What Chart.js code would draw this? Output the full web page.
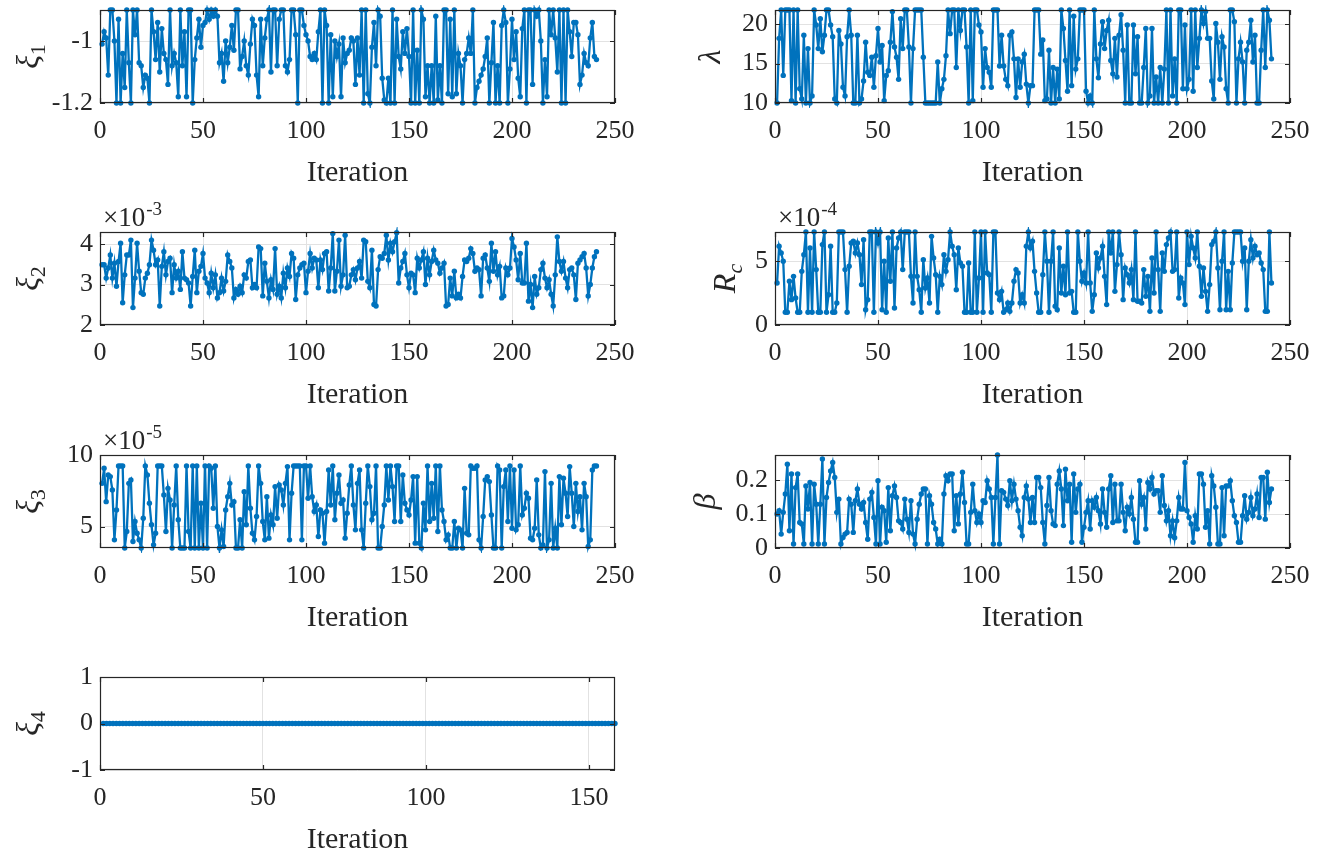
<!DOCTYPE html>
<html>
<head>
<meta charset="utf-8">
<script src="https://cdn.jsdelivr.net/npm/chart.js@4.4.1/dist/chart.umd.min.js"></script>
<style>
  html, body { margin: 0; padding: 0; background: #fff; overflow: hidden; width: 1329px; height: 856px; }
  body { position: relative; }
  canvas { position: absolute; }
</style>
</head>
<body>
<script>
// ---- data ----
const iterTicks = [0, 50, 100, 150, 200, 250];
const iterTicksXi4 = [0, 50, 100, 150];

const xi1 = [
  -1.01, -0.97, -0.99, -1.11, -0.9, -0.9, -1.0, -1.2, -0.93, -1.2, -1.04, -1.15, -0.9, -1.07, -1.2,
  -0.9, -0.98, -0.9, -1.07, -1.08, -1.15, -1.11, -1.12, -1.2, -0.9, -0.97, -1.06, -0.94, -1.1, -0.96,
  -1.04, -1.06, -1.14, -0.9, -1.08, -1.04, -1.07, -1.18, -0.9, -1.08, -0.97, -1.18, -0.9, -0.9, -1.2,
  -1.06, -0.99, -0.93, -1.02, -0.95, -0.94, -0.9, -0.93, -0.9, -0.92, -0.9, -0.92,
  -1.07, -1.04, -1.13, -1.0, -1.07, -1.02, -0.95, -1.03, -0.9, -0.9, -1.09, -1.05, -1.0, -1.08, -1.11,
  -1.01, -0.93, -0.95, -1.11, -1.18, -0.93, -1.08, -0.99, -0.93, -0.9, -1.1, -0.9, -0.9, -1.08, -0.93,
  -0.9, -0.9, -1.08, -1.1, -1.06, -0.9, -0.9, -0.98, -1.2, -0.9, -0.9, -0.95, -0.98, -1.0, -1.05,
  -1.06, -1.04, -1.06, -0.97, -0.9, -1.2, -0.9, -0.95, -1.2, -0.98, -1.18, -1.0, -1.05, -1.01, -1.18,
  -0.99, -1.07, -1.04, -1.03, -0.99, -1.0, -1.14,
  -0.99, -1.11, -0.9, -1.2, -0.9, -1.17, -1.2, -1.02, -0.94, -1.08, -0.9, -0.92, -1.12, -1.19, -1.2,
  -1.12, -1.2, -0.9, -1.2, -0.93, -1.05, -1.09, -0.97, -1.04, -0.96, -1.05, -1.2, -0.9, -1.2, -1.03,
  -1.2, -0.9, -0.93, -1.18, -1.08, -1.2, -1.08, -1.2, -0.92, -1.19, -1.08, -1.2, -0.9, -0.9, -1.17,
  -0.93, -1.18, -0.9, -1.17, -1.04, -1.08, -1.2, -1.06, -1.04, -0.99, -1.04, -0.9, -1.2, -1.15, -1.13,
  -1.11, -1.09, -1.05, -0.99, -1.2, -1.07, -0.94, -1.2, -1.08, -1.2, -0.95, -0.9, -0.94, -1.2, -1.09,
  -0.93, -1.06, -0.97, -1.12, -1.18, -0.96, -0.9, -1.2, -0.9, -0.9, -1.14, -0.9, -0.92, -0.9, -1.0,
  -1.2, -1.06, -1.18, -0.9, -0.98, -0.9, -0.99, -1.1, -0.9, -1.2, -0.9, -1.2, -0.9, -0.97, -1.05,
  -0.94, -0.94, -0.98, -1.14, -1.11, -1.04, -1.07, -1.08, -0.99, -0.94, -1.05, -1.06
];

const lambda = [
  10, 18.2, 21.8, 13.5, 21.8, 21.8, 21.8, 10.3, 21.8,
  10, 21.8, 11.8, 10.5, 18.6, 10, 16.9, 10, 10.9,
  21.8, 19.9, 16.9, 20.7, 16.5, 18.6, 21.8, 21.8, 19.9,
  18.4, 10.5, 10, 19.2, 17.5, 12.0, 10.9, 18.4, 21.8,
  18.6, 10, 10, 18.6, 10, 10.5, 12.8, 17.7, 13.9,
  13.5, 15.8, 12.0, 16.0, 19.45, 15.2, 17.3, 10.3, 13.5,
  14.1, 17.7, 21.6, 17.1, 15.8, 13.0, 20.7, 16.9, 21.8,
  21.8, 17.1, 10, 16.9, 21.8, 21.8, 21.8, 21.8, 15.8,
  10, 10, 10, 10, 10, 10, 15.2, 10, 11.8, 13.0,
  16.0, 21.8, 18.8, 21.8, 21.8, 14.5, 21.8, 19.2, 21.8,
  21.8, 17.1, 10, 21.8, 10.3, 21.8, 21.8, 19.9, 19.0,
  12.0, 16.9, 14.5, 13.9, 12.0, 21.8, 21.8, 21.8, 14.7,
  18.6, 14.7, 13.0, 12.2, 18.6, 19.0, 15.6, 10.7,
  15.6, 12.0, 15.2, 16.2, 12.4, 10, 12.2,
  12.2, 21.8, 21.8, 21.8, 16.2, 18.0, 10.3, 10.5,
  16.7, 10, 14.5, 10, 14.3, 10.5, 21.8, 19.45, 15.4,
  11.5, 21.8, 12.2, 21.0, 14.3, 15.6, 21.8, 21.8, 21.8,
  11.5, 10, 10.9, 10, 21.8, 15.6, 13.2, 17.5, 20.3, 16.9,
  19.2, 20.5, 15.4, 13.7, 18.2, 13.3, 18.6, 21.2, 16.7,
  10, 19.9, 10, 10, 19.9, 13.7, 18.4, 10, 10, 14.5,
  19.45, 10, 10.9, 19.45, 10, 13.3, 10, 14.5, 10, 14.3,
  21.8, 10, 21.8, 10.9, 15.6, 10, 21.8, 21.8, 11.8, 19.9,
  11.8, 13.0, 21.8, 11.5, 21.8, 14.5, 18.2, 21.8, 20.1, 21.6,
  18.2, 18.2, 12.8, 10.5, 20.1, 17.7, 13.0, 18.4, 17.1,
  11.8, 10, 21.8, 21.8, 20.3, 10, 15.6, 17.7, 15.2, 10,
  16.7, 17.7, 20.5, 15.2, 18.6, 10, 10, 16.7, 21.8,
  14.5, 21.8, 20.5, 15.6
];

// xi2 in units of 1e-3
const xi2 = [
  3.49, 3.49, 3.16, 3.41, 3.73, 3.16, 3.53, 2.96, 3.57,
  4.02, 2.55, 3.24, 3.73, 3.73, 4.10, 2.43, 3.16, 4.02, 3.33,
  2.80, 2.76, 3.16, 3.28, 3.49, 4.10, 3.85, 3.49, 3.61,
  2.47, 3.45, 3.81, 3.24, 3.57, 3.65, 2.80, 3.49, 3.16,
  3.33, 2.88, 3.81, 3.16, 3.12, 3.04, 2.47, 3.20, 3.85,
  2.80, 3.33, 3.45, 3.77, 3.16, 3.04, 2.80, 3.28, 2.92,
  3.24, 2.67, 2.80, 3.16, 2.84, 3.08, 3.73, 3.57, 3.41,
  2.67, 2.88, 2.76, 2.96, 2.80, 3.24, 3.16, 3.57, 3.61,
  2.92, 3.0, 2.92, 3.93, 3.89, 2.72, 3.53, 3.08, 2.67,
  3.12, 2.88, 3.89, 2.76, 2.96, 2.67, 3.28, 2.92, 3.41,
  3.20, 3.77, 3.65, 2.63, 3.24, 3.41, 3.49, 3.53, 2.80,
  3.33, 3.77, 3.41, 3.65, 3.61, 2.92, 3.61, 3.37, 3.77,
  3.81, 2.84, 3.41, 4.26, 2.84, 3.33, 4.10, 2.96, 3.24, 4.22,
  2.92, 2.96, 3.24, 3.37, 3.12,
  3.41, 3.57, 3.16, 4.10, 4.06, 3.08, 2.92, 3.85, 2.51,
  2.47, 3.37, 3.69, 3.65, 3.77, 4.22, 3.61, 4.02, 3.81,
  4.06, 4.28, 3.04, 3.41, 3.57, 3.77, 3.24, 2.92,
  3.28, 3.24, 2.80, 3.65, 3.41, 3.61, 3.81, 3.0,
  3.65, 3.24, 3.57, 3.85, 3.61, 3.53, 3.28, 3.41,
  3.53, 2.47, 2.51, 3.16, 2.72, 3.33, 2.67, 2.76, 2.67,
  3.20, 3.61, 3.57, 3.65, 3.89, 3.77, 3.33, 3.41,
  3.37, 2.72, 3.65, 3.73, 3.41, 3.08, 4.02, 3.33, 3.81, 3.24,
  3.45, 2.67, 2.72, 3.41, 3.24, 3.41, 4.14, 3.93,
  3.61, 3.12, 3.77, 3.04, 3.04, 4.02, 2.59, 3.0, 2.43, 3.20,
  2.76, 2.92, 3.37, 3.53, 3.16, 2.92, 3.12, 2.76, 2.47,
  3.24, 4.18, 3.57, 3.33, 3.57, 3.16, 2.92, 3.37, 3.41,
  3.24, 2.63, 3.53, 3.61, 3.69, 3.77, 3.41, 2.72, 3.0, 3.41, 3.69, 3.81
];

// Rc in units of 1e-4
const rc = [
  3.30, 6.18, 5.65, 5.0, 1.0, 1.0, 3.43, 1.99,
  3.82, 2.12, 1.0, 1.0, 4.21, 5.52, 7.3, 1.0,
  6.05, 1.0, 7.3, 4.35, 1.0, 1.0, 6.31, 7.3,
  1.0, 2.38, 6.18, 1.0, 1.0, 1.73, 7.3, 7.3,
  7.3, 4.35, 1.0, 4.61, 6.44, 6.57, 5.65, 6.44,
  5.52, 3.17, 6.70, 1.20, 1.99, 7.3, 7.3,
  1.0, 7.3, 6.44, 7.3, 1.20, 5.0, 1.0, 6.83,
  3.43, 7.3, 1.34, 6.05, 6.83, 7.3, 4.35, 7.3,
  7.3, 7.3, 3.82, 1.73, 7.3, 3.82, 2.77,
  1.0, 5.13, 2.91, 3.69, 1.73, 6.96, 5.26, 3.95,
  1.0, 3.82, 3.17, 5.52, 4.21, 5.13, 7.3, 6.18,
  5.52, 2.77, 6.05, 4.87, 4.61, 1.0, 1.0, 4.87,
  1.0, 1.0, 7.3, 1.0, 3.69, 7.3, 1.0, 7.3, 4.08, 3.95,
  1.0, 7.3, 7.3, 2.51, 1.99, 2.64, 1.0, 1.20, 1.73,
  1.07, 1.73, 3.43, 4.35, 4.08, 1.73, 2.38, 1.73, 6.18, 7.3, 6.05,
  6.57, 4.21, 2.51, 1.0, 1.0, 3.95, 7.3, 5.0, 1.0, 5.0,
  7.3, 1.47, 1.20, 6.05, 2.51, 4.61, 2.38, 7.3, 2.51, 2.64,
  1.0, 1.0, 7.3, 5.0, 3.43, 4.08, 3.30, 7.3, 3.30, 1.07,
  2.38, 5.65, 4.48, 5.26, 6.18, 3.82, 1.60, 7.3, 5.65, 7.3,
  2.64, 4.74, 7.3, 5.52, 1.99, 4.48, 3.95, 3.30, 4.35, 1.99,
  7.3, 1.86, 1.86, 1.73, 4.35, 2.25, 3.82, 1.07, 5.26, 2.51,
  7.3, 4.35, 1.07, 5.65, 4.21, 6.31, 6.83, 7.3, 4.21, 4.35,
  7.3, 2.12, 3.69, 3.30, 1.60, 7.3, 4.74, 6.96, 6.05, 5.26,
  7.3, 4.61, 2.25, 4.48, 2.64, 1.07, 3.17, 6.31, 6.57, 7.3,
  4.48, 1.20, 5.0, 7.3, 1.20, 4.21, 1.20, 4.87, 7.3, 7.3,
  7.3, 7.3, 5.0, 6.05, 1.20, 5.0, 6.70, 5.26, 6.18, 5.52,
  5.65, 4.87, 4.35, 1.07, 1.07, 7.3, 3.30
];

// xi3 in units of 1e-5
const xi3 = [
  8.02, 9.07, 6.74, 8.60, 8.49, 7.56, 4.07, 6.16,
  9.23, 9.23, 9.23, 3.5, 4.65, 8.02, 8.26, 3.95, 5.35, 4.53,
  4.07, 3.5, 5.58, 9.23, 8.60, 6.63, 5.12, 3.72, 4.53,
  9.23, 9.23, 9.23, 7.21, 4.65, 7.67, 6.86, 3.5, 6.51, 9.23,
  5.47, 3.5, 3.5, 3.5, 9.23, 4.65, 3.5, 9.23, 3.5, 9.23,
  3.5, 6.63, 3.5, 9.23, 3.5, 9.23, 9.07, 6.28, 9.23, 5.0,
  3.5, 4.77, 3.60, 6.16, 7.09, 8.02, 6.51, 6.74, 3.5,
  3.5, 5.47, 3.5, 7.44, 5.12, 9.23, 6.28, 4.53, 4.07, 5.70,
  9.23, 8.02, 5.35, 4.07, 7.09, 4.19, 5.81, 5.12, 7.79, 5.58,
  7.91, 7.56, 6.51, 8.02, 9.19, 4.07, 7.33, 9.23, 9.23,
  9.23, 9.23, 4.07, 9.23, 9.23, 6.98, 9.23, 7.09, 6.05, 6.51,
  4.30, 6.16, 5.93, 3.84, 6.05, 8.95, 6.51, 9.23, 5.47, 7.33,
  8.60, 6.63, 6.86, 4.19, 5.93, 7.91, 9.23, 6.51, 4.77,
  8.02, 8.95, 4.77, 3.5, 6.63, 9.23, 7.79, 5.47, 5.93,
  9.23, 3.5, 3.5, 5.0, 6.51, 9.23, 6.86, 9.23, 7.79, 5.35,
  9.23, 9.23, 5.35, 8.60, 6.63, 6.16, 5.81, 6.86,
  8.49, 3.84, 8.49, 3.84, 3.5, 6.63, 4.77, 9.23, 5.35, 8.02,
  5.58, 9.23, 4.65, 9.23, 6.16, 5.35, 4.07, 4.42, 3.5,
  3.5, 5.35, 3.5, 4.88, 4.77, 3.5, 7.67, 4.53, 4.42, 9.23,
  9.07, 9.07, 9.23, 4.07, 3.5, 5.70, 8.26, 8.49, 8.14, 5.81,
  3.5, 3.5, 9.23, 8.95, 3.5, 7.79, 8.95, 5.35, 9.23, 4.88,
  8.95, 4.77, 5.12, 9.23, 5.81, 6.28, 7.33, 6.98, 4.19,
  4.07, 4.88, 8.26, 4.42, 3.5, 3.72, 8.84, 3.5, 4.07, 8.02,
  3.5, 4.88, 3.5, 8.49, 5.12, 8.37, 7.33, 5.70, 9.19, 7.33,
  5.0, 8.02, 6.05, 7.09, 4.77, 8.02, 7.09, 3.60, 4.07, 8.95, 9.23, 9.23
];

const beta = [
  0.1, 0.11, 0.041, 0.105, 0.159, 0.247, 0.051, 0.218, 0.012,
  0.178, 0.218, 0.075, 0.071, 0.012, 0.183, 0.115, 0.193,
  0.012, 0.188, 0.129, 0.012, 0.129, 0.262, 0.012, 0.149, 0.193, 0.227,
  0.252, 0.208, 0.105, 0.144, 0.012, 0.031, 0.041, 0.046, 0.144,
  0.129, 0.046, 0.139, 0.174, 0.129, 0.115, 0.134, 0.075,
  0.026, 0.144, 0.164, 0.09, 0.012, 0.198, 0.012, 0.12, 0.11,
  0.017, 0.178, 0.051, 0.154, 0.183, 0.149, 0.08, 0.075,
  0.056, 0.144, 0.085, 0.046, 0.139, 0.041, 0.012, 0.085, 0.129,
  0.159, 0.174, 0.174, 0.012, 0.154, 0.129, 0.075, 0.056, 0.012,
  0.026, 0.012, 0.159, 0.213, 0.198, 0.218, 0.218, 0.051, 0.154,
  0.071, 0.159, 0.223, 0.134, 0.012, 0.012, 0.105, 0.188, 0.11,
  0.075, 0.1, 0.075, 0.139, 0.134, 0.198, 0.174, 0.149, 0.012,
  0.149, 0.274, 0.012, 0.169, 0.164, 0.144, 0.125, 0.198, 0.139,
  0.188, 0.144, 0.11, 0.061, 0.036, 0.149, 0.183, 0.144, 0.075,
  0.149, 0.075, 0.208, 0.208, 0.178, 0.075, 0.012, 0.125, 0.208,
  0.11, 0.071, 0.066, 0.188, 0.227, 0.174, 0.066, 0.232, 0.139,
  0.188, 0.017, 0.218, 0.105, 0.174, 0.188, 0.017, 0.061, 0.105,
  0.139, 0.056, 0.139, 0.12, 0.149, 0.11, 0.071, 0.174,
  0.105, 0.061, 0.174, 0.213, 0.075, 0.188, 0.08, 0.08, 0.188, 0.105,
  0.051, 0.12, 0.1, 0.149, 0.085, 0.017, 0.017, 0.198, 0.129,
  0.149, 0.056, 0.193, 0.174, 0.208, 0.159, 0.169, 0.169, 0.105,
  0.213, 0.125, 0.08, 0.11, 0.036, 0.08, 0.03, 0.08, 0.149,
  0.115, 0.115, 0.252, 0.11, 0.09, 0.071, 0.017, 0.095, 0.056,
  0.218, 0.218, 0.188, 0.061, 0.11, 0.012, 0.213, 0.183, 0.12, 0.012,
  0.012, 0.178, 0.036, 0.183, 0.183, 0.198, 0.139, 0.095, 0.075,
  0.017, 0.017, 0.095, 0.154, 0.085, 0.105, 0.149, 0.095, 0.115,
  0.159, 0.09, 0.208, 0.208, 0.085, 0.223, 0.134, 0.174
];

const xi4 = [
  0, 0, 0, 0, 0, 0, 0, 0, 0, 0, 0, 0, 0, 0, 0, 0, 0, 0, 0, 0,
  0, 0, 0, 0, 0, 0, 0, 0, 0, 0, 0, 0, 0, 0, 0, 0, 0, 0, 0, 0,
  0, 0, 0, 0, 0, 0, 0, 0, 0, 0, 0, 0, 0, 0, 0, 0, 0, 0, 0, 0,
  0, 0, 0, 0, 0, 0, 0, 0, 0, 0, 0, 0, 0, 0, 0, 0, 0, 0, 0, 0,
  0, 0, 0, 0, 0, 0, 0, 0, 0, 0, 0, 0, 0, 0, 0, 0, 0, 0, 0, 0,
  0, 0, 0, 0, 0, 0, 0, 0, 0, 0, 0, 0, 0, 0, 0, 0, 0, 0, 0, 0,
  0, 0, 0, 0, 0, 0, 0, 0, 0, 0, 0, 0, 0, 0, 0, 0, 0, 0, 0, 0,
  0, 0, 0, 0, 0, 0, 0, 0, 0, 0, 0, 0, 0, 0, 0, 0, 0, 0
];

const xi1Ticks = [-1.2, -1];
const lambdaTicks = [10, 15, 20];
const xi2Ticks = [2, 3, 4];
const rcTicks = [0, 5];
const xi3Ticks = [5, 10];
const betaTicks = [0, 0.1, 0.2];
const xi4Ticks = [-1, 0, 1];

// ---- layout ----
const SERIF = '"Liberation Serif", "Times New Roman", serif';
const INK = '#262626';
const BLUE = '#0072BD';
const COLS = [0, 675];
const ROWS = [10, 232, 455, 677];

const panels = [
  { values: xi1, yTicks: xi1Ticks, min: -1.2, max: -0.9, col: 0, row: 0, sym: '\u03BE', sub: '1', labelDx: -62 },
  { values: lambda, yTicks: lambdaTicks, min: 10, max: 21.8, col: 1, row: 0, sym: '\u03BB', sub: '', labelDx: -55 },
  { values: xi2, yTicks: xi2Ticks, min: 2, max: 4.3, col: 0, row: 1, sym: '\u03BE', sub: '2', labelDx: -62, exp: '-3' },
  { values: rc, yTicks: rcTicks, min: 0, max: 7.3, col: 1, row: 1, sym: 'R', sub: 'c', subItalic: true, labelDx: -40, exp: '-4' },
  { values: xi3, yTicks: xi3Ticks, min: 3.5, max: 10, col: 0, row: 2, sym: '\u03BE', sub: '3', labelDx: -62, exp: '-5' },
  { values: beta, yTicks: betaTicks, min: 0, max: 0.274, col: 1, row: 2, sym: '\u03B2', sub: '', labelDx: -60 },
  { values: xi4, yTicks: xi4Ticks, min: -1, max: 1, col: 0, row: 3, sym: '\u03BE', sub: '4', labelDx: -62, xMax: 158, xTicks: iterTicksXi4 }
];

const framePlugin = {
  id: 'matlabFrame',
  afterDraw(chart, args, opts) {
    const { ctx, chartArea: a, scales } = chart;
    ctx.save();
    ctx.strokeStyle = INK;
    ctx.lineWidth = 1.2;
    ctx.strokeRect(a.left + 0.5, a.top + 0.5, a.width - 1, a.height - 1);
    ctx.beginPath();
    scales.x.ticks.forEach(t => {
      const px = Math.round(scales.x.getPixelForValue(t.value)) + 0.5;
      ctx.moveTo(px, a.bottom); ctx.lineTo(px, a.bottom - 5);
      ctx.moveTo(px, a.top); ctx.lineTo(px, a.top + 5);
    });
    scales.y.ticks.forEach(t => {
      const py = Math.round(scales.y.getPixelForValue(t.value)) + 0.5;
      ctx.moveTo(a.left, py); ctx.lineTo(a.left + 5, py);
      ctx.moveTo(a.right, py); ctx.lineTo(a.right - 5, py);
    });
    ctx.stroke();

    // y label, rotated, with subscript
    ctx.fillStyle = INK;
    ctx.translate(a.left + opts.labelDx, (a.top + a.bottom) / 2);
    ctx.rotate(-Math.PI / 2);
    ctx.textBaseline = 'alphabetic';
    ctx.font = 'italic 32px ' + SERIF;
    const w1 = ctx.measureText(opts.sym).width;
    ctx.font = (opts.subItalic ? 'italic ' : '') + '22px ' + SERIF;
    const w2 = opts.sub ? ctx.measureText(opts.sub).width : 0;
    const x0 = -(w1 + w2) / 2;
    ctx.font = 'italic 32px ' + SERIF;
    ctx.fillText(opts.sym, x0, 0);
    if (opts.sub) {
      ctx.font = (opts.subItalic ? 'italic ' : '') + '22px ' + SERIF;
      ctx.fillText(opts.sub, x0 + w1, 7);
    }
    ctx.restore();

    // exponent label
    if (opts.exp) {
      ctx.save();
      ctx.fillStyle = INK;
      ctx.textBaseline = 'alphabetic';
      ctx.font = '27px ' + SERIF;
      const base = '\u00D710';
      ctx.fillText(base, a.left + 3, a.top - 6);
      const bw = ctx.measureText(base).width;
      ctx.font = '19px ' + SERIF;
      ctx.fillText(opts.exp, a.left + 3 + bw + 1, a.top - 17);
      ctx.restore();
    }
  }
};

panels.forEach((p, i) => {
  const cv = document.createElement('canvas');
  cv.width = 640;
  cv.height = 221;
  cv.style.left = COLS[p.col] + 'px';
  cv.style.top = (ROWS[p.row] - 40) + 'px';
  document.body.appendChild(cv);

  const xTicks = p.xTicks || iterTicks;
  const points = p.values.map((v, k) => ({ x: k + 1, y: v }));
  const tickFont = { family: SERIF, size: 26 };

  new Chart(cv, {
    type: 'line',
    data: {
      datasets: [{
        data: points,
        borderColor: BLUE,
        backgroundColor: BLUE,
        borderWidth: 2.3,
        pointRadius: 2.7,
        pointBorderWidth: 0,
        pointBackgroundColor: BLUE,
        tension: 0,
        clip: 5
      }]
    },
    options: {
      responsive: false,
      animation: false,
      devicePixelRatio: 1,
      layout: { padding: { top: 40, right: 25, left: 0, bottom: 0 } },
      plugins: {
        legend: { display: false },
        tooltip: { enabled: false },
        matlabFrame: { sym: p.sym, sub: p.sub, subItalic: p.subItalic, labelDx: p.labelDx, exp: p.exp }
      },
      scales: {
        x: {
          type: 'linear',
          min: 0,
          max: p.xMax || 250,
          afterBuildTicks: s => { s.ticks = xTicks.map(v => ({ value: v })); },
          afterFit: s => { s.height = 88; s.paddingLeft = 0; s.paddingRight = 0; },
          grid: { color: '#e2e2e2', drawTicks: false },
          border: { display: false },
          ticks: { padding: 13, font: tickFont, color: INK, maxRotation: 0, autoSkip: false, callback: v => String(v) },
          title: { display: true, text: 'Iteration', font: { family: SERIF, size: 30 }, color: INK, padding: { top: 0, bottom: 0 } }
        },
        y: {
          type: 'linear',
          min: p.min,
          max: p.max,
          afterBuildTicks: s => { s.ticks = p.yTicks.map(v => ({ value: v })); },
          afterFit: s => { s.width = 100; s.paddingTop = 0; s.paddingBottom = 0; },
          grid: { color: '#e2e2e2', drawTicks: false },
          border: { display: false },
          ticks: { padding: 7, font: tickFont, color: INK, autoSkip: false, callback: v => String(v) }
        }
      }
    },
    plugins: [framePlugin]
  });
});
</script>
</body>
</html>
